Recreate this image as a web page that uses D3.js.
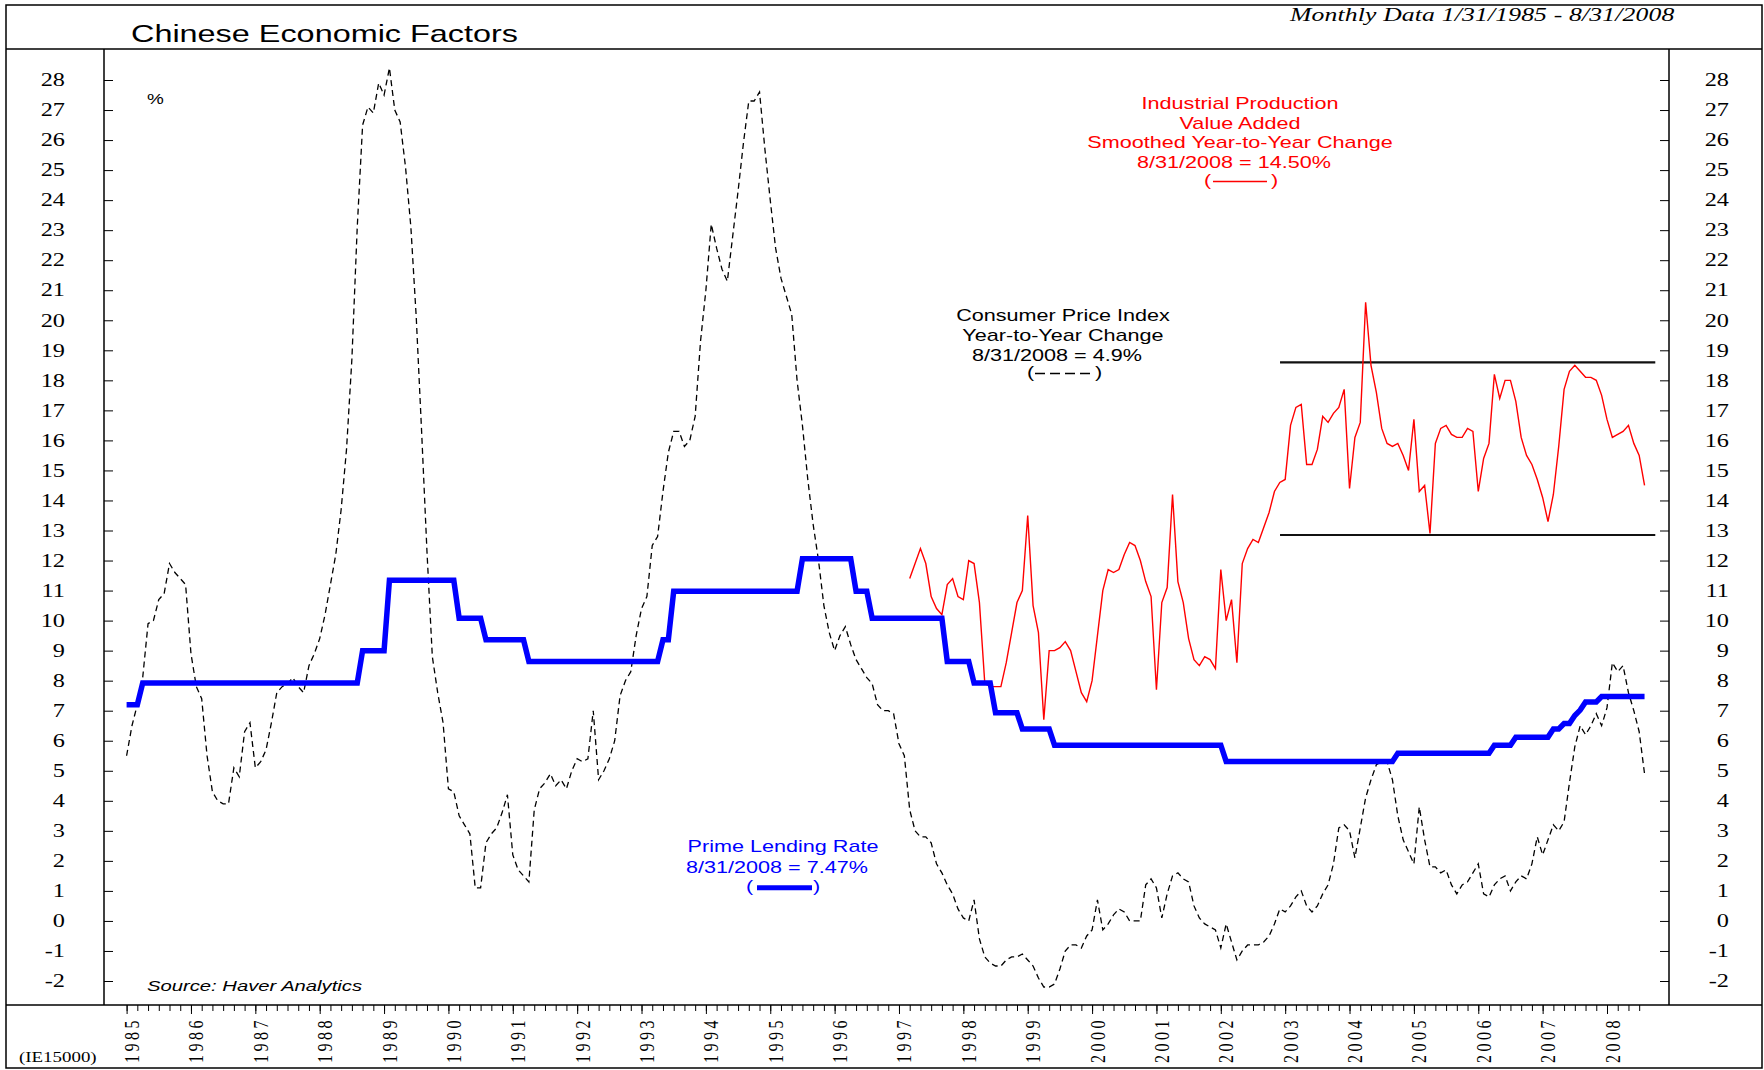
<!DOCTYPE html>
<html>
<head>
<meta charset="utf-8">
<title>Chinese Economic Factors</title>
<script src="https://cdn.jsdelivr.net/npm/d3@7"></script>
<style>
  body { margin: 0; background: #fff; }
  svg { display: block; }
</style>
</head>
<body>
<script>
// monthly series, index 0 = Jan 1985
const startYear = 1985;

// CPI, year-to-year % change
const cpi = [
  5.5, 6.5, 7.2, 8.1, 9.9, 10.0, 10.7, 10.9, 11.9, 11.6, 11.4, 11.2,        // 1985
  8.9, 7.8, 7.4, 5.5, 4.3, 4.0, 3.9, 3.9, 5.1, 4.8, 6.3, 6.6,               // 1986
  5.1, 5.3, 5.7, 6.6, 7.6, 7.8, 7.9, 8.1, 7.8, 7.6, 8.5, 8.9,               // 1987
  9.4, 10.2, 11.2, 12.2, 13.7, 15.7, 18.7, 23.1, 26.5, 27.1, 26.9, 27.9,    // 1988
  27.5, 28.4, 27.0, 26.6, 25.1, 23.1, 20.1, 16.3, 12.3, 8.8, 7.6, 6.6,      // 1989
  4.4, 4.3, 3.5, 3.2, 2.9, 1.1, 1.1, 2.6, 2.9, 3.1, 3.6, 4.2,               // 1990
  2.2, 1.7, 1.5, 1.3, 3.7, 4.4, 4.6, 4.9, 4.5, 4.7, 4.4, 5.0,               // 1991
  5.4, 5.3, 5.4, 7.0, 4.7, 5.0, 5.4, 6.0, 7.5, 8.0, 8.3, 9.5,               // 1992
  10.4, 10.8, 12.5, 12.8, 14.3, 15.6, 16.3, 16.3, 15.8, 16.0, 16.8, 19.3,   // 1993
  21.0, 23.2, 22.4, 21.7, 21.3, 22.8, 24.3, 25.9, 27.3, 27.3, 27.6, 25.7,   // 1994
  24.0, 22.4, 21.4, 20.8, 20.2, 18.0, 16.5, 14.7, 13.2, 12.0, 10.5, 9.6,    // 1995
  9.0, 9.5, 9.8, 9.2, 8.7, 8.4, 8.1, 7.9, 7.2, 7.0, 7.0, 6.9,               // 1996
  5.9, 5.5, 3.7, 3.0, 2.8, 2.8, 2.6, 1.9, 1.6, 1.2, 0.9, 0.4,               // 1997
  0.1, 0.0, 0.7, -0.6, -1.2, -1.4, -1.5, -1.5, -1.3, -1.2, -1.2, -1.1,      // 1998
  -1.3, -1.5, -1.9, -2.2, -2.2, -2.1, -1.6, -1.0, -0.8, -0.8, -0.9, -0.5,   // 1999
  -0.3, 0.7, -0.3, -0.1, 0.2, 0.4, 0.3, 0.0, 0.0, 0.0, 1.2, 1.4,            // 2000
  1.1, 0.1, 0.9, 1.5, 1.6, 1.4, 1.3, 0.5, 0.1, -0.1, -0.2, -0.3,            // 2001
  -0.9, -0.1, -0.7, -1.3, -1.0, -0.8, -0.8, -0.8, -0.7, -0.5, -0.1, 0.4,    // 2002
  0.3, 0.5, 0.8, 1.0, 0.5, 0.3, 0.5, 0.9, 1.2, 1.9, 3.1, 3.2,               // 2003
  3.0, 2.1, 3.1, 4.1, 4.7, 5.2, 5.3, 5.3, 4.7, 3.5, 2.7, 2.3,               // 2004
  1.9, 3.8, 2.7, 1.8, 1.8, 1.6, 1.7, 1.2, 0.9, 1.2, 1.3, 1.6,               // 2005
  1.9, 0.9, 0.8, 1.2, 1.4, 1.5, 1.0, 1.3, 1.5, 1.4, 1.9, 2.8,               // 2006
  2.2, 2.7, 3.2, 3.0, 3.3, 4.6, 5.8, 6.5, 6.2, 6.5, 6.9, 6.5,               // 2007
  7.1, 8.6, 8.3, 8.5, 7.6, 7.0, 6.3, 4.9                                    // 2008
];

// prime lending rate, %
const primeRate = [
  7.20, 7.20, 7.20, 7.92, 7.92, 7.92, 7.92, 7.92, 7.92, 7.92, 7.92, 7.92,             // 1985
  7.92, 7.92, 7.92, 7.92, 7.92, 7.92, 7.92, 7.92, 7.92, 7.92, 7.92, 7.92,             // 1986
  7.92, 7.92, 7.92, 7.92, 7.92, 7.92, 7.92, 7.92, 7.92, 7.92, 7.92, 7.92,             // 1987
  7.92, 7.92, 7.92, 7.92, 7.92, 7.92, 7.92, 7.92, 9.00, 9.00, 9.00, 9.00,             // 1988
  9.00, 11.34, 11.34, 11.34, 11.34, 11.34, 11.34, 11.34, 11.34, 11.34, 11.34, 11.34,  // 1989
  11.34, 11.34, 10.08, 10.08, 10.08, 10.08, 10.08, 9.36, 9.36, 9.36, 9.36, 9.36,      // 1990
  9.36, 9.36, 9.36, 8.64, 8.64, 8.64, 8.64, 8.64, 8.64, 8.64, 8.64, 8.64,             // 1991
  8.64, 8.64, 8.64, 8.64, 8.64, 8.64, 8.64, 8.64, 8.64, 8.64, 8.64, 8.64,             // 1992
  8.64, 8.64, 8.64, 8.64, 9.36, 9.36, 10.98, 10.98, 10.98, 10.98, 10.98, 10.98,       // 1993
  10.98, 10.98, 10.98, 10.98, 10.98, 10.98, 10.98, 10.98, 10.98, 10.98, 10.98, 10.98, // 1994
  10.98, 10.98, 10.98, 10.98, 10.98, 10.98, 12.06, 12.06, 12.06, 12.06, 12.06, 12.06, // 1995
  12.06, 12.06, 12.06, 12.06, 10.98, 10.98, 10.98, 10.08, 10.08, 10.08, 10.08, 10.08, // 1996
  10.08, 10.08, 10.08, 10.08, 10.08, 10.08, 10.08, 10.08, 10.08, 8.64, 8.64, 8.64,    // 1997
  8.64, 8.64, 7.92, 7.92, 7.92, 7.92, 6.93, 6.93, 6.93, 6.93, 6.93, 6.39,             // 1998
  6.39, 6.39, 6.39, 6.39, 6.39, 5.85, 5.85, 5.85, 5.85, 5.85, 5.85, 5.85,             // 1999
  5.85, 5.85, 5.85, 5.85, 5.85, 5.85, 5.85, 5.85, 5.85, 5.85, 5.85, 5.85,             // 2000
  5.85, 5.85, 5.85, 5.85, 5.85, 5.85, 5.85, 5.85, 5.85, 5.85, 5.85, 5.85,             // 2001
  5.85, 5.31, 5.31, 5.31, 5.31, 5.31, 5.31, 5.31, 5.31, 5.31, 5.31, 5.31,             // 2002
  5.31, 5.31, 5.31, 5.31, 5.31, 5.31, 5.31, 5.31, 5.31, 5.31, 5.31, 5.31,             // 2003
  5.31, 5.31, 5.31, 5.31, 5.31, 5.31, 5.31, 5.31, 5.31, 5.58, 5.58, 5.58,             // 2004
  5.58, 5.58, 5.58, 5.58, 5.58, 5.58, 5.58, 5.58, 5.58, 5.58, 5.58, 5.58,             // 2005
  5.58, 5.58, 5.58, 5.85, 5.85, 5.85, 5.85, 6.12, 6.12, 6.12, 6.12, 6.12,             // 2006
  6.12, 6.12, 6.39, 6.39, 6.57, 6.57, 6.84, 7.02, 7.29, 7.29, 7.29, 7.47,             // 2007
  7.47, 7.47, 7.47, 7.47, 7.47, 7.47, 7.47, 7.47                                      // 2008
];

// industrial production value added, smoothed yoy %, starts Mar 1997
const ipStart = 1997 + 2 / 12;
const industrialProduction = [
  11.4, 11.9, 12.4, 11.9, 10.8, 10.4, 10.2, 11.2, 11.4, 10.8,               // 1997 (Mar-Dec)
  10.7, 12.0, 11.9, 10.6, 7.9, 7.8, 7.8, 7.8, 8.6, 9.6, 10.6, 11.0,         // 1998
  13.5, 10.5, 9.6, 6.7, 9.0, 9.0, 9.1, 9.3, 9.0, 8.3, 7.6, 7.3,             // 1999
  8.0, 9.5, 11.0, 11.7, 11.6, 11.7, 12.2, 12.6, 12.5, 12.0, 11.3, 10.8,     // 2000
  7.7, 10.6, 11.1, 14.2, 11.3, 10.6, 9.4, 8.7, 8.5, 8.8, 8.7, 8.4,          // 2001
  11.7, 10.0, 10.7, 8.6, 11.9, 12.4, 12.7, 12.6, 13.1, 13.6, 14.3, 14.6,    // 2002
  14.7, 16.5, 17.1, 17.2, 15.2, 15.2, 15.7, 16.8, 16.6, 16.9, 17.1, 17.7,   // 2003
  14.4, 16.1, 16.6, 20.6, 18.5, 17.6, 16.4, 15.9, 15.8, 15.9, 15.5, 15.0,   // 2004
  16.7, 14.3, 14.5, 12.9, 15.9, 16.4, 16.5, 16.2, 16.1, 16.1, 16.4, 16.3,   // 2005
  14.3, 15.4, 15.9, 18.2, 17.4, 18.0, 18.0, 17.3, 16.1, 15.5, 15.2, 14.7,   // 2006
  14.1, 13.3, 14.2, 15.8, 17.7, 18.3, 18.5, 18.3, 18.1, 18.1, 18.0, 17.5,   // 2007
  16.7, 16.1, 16.2, 16.3, 16.5, 15.9, 15.5, 14.5                            // 2008
];

const years = [1985, 1986, 1987, 1988, 1989, 1990, 1991, 1992, 1993, 1994, 1995, 1996,
               1997, 1998, 1999, 2000, 2001, 2002, 2003, 2004, 2005, 2006, 2007, 2008];
const yTicks = [-2, -1, 0, 1, 2, 3, 4, 5, 6, 7, 8, 9, 10, 11, 12, 13, 14, 15,
                16, 17, 18, 19, 20, 21, 22, 23, 24, 25, 26, 27, 28];

// the two horizontal range lines over the IP series
const bandLevels = [18.6, 12.85];
const bandSpan = [2002.92, 2008.75];

const ipLegend = ["Industrial Production", "Value Added", "Smoothed Year-to-Year Change", "8/31/2008 = 14.50%"];
const cpiLegend = ["Consumer Price Index", "Year-to-Year Change", "8/31/2008 = 4.9%"];
const primeLegend = ["Prime Lending Rate", "8/31/2008 = 7.47%"];

// ---------------------------------------------------------------
const W = 1764, H = 1070;
const SX = 1.35;   // the original's type is set wide
const sans = "'Liberation Sans', Arial, Helvetica, sans-serif";
const serif = "'Liberation Serif', 'Times New Roman', serif";
const plot = {left: 104, right: 1669, top: 49, bottom: 1005};

const x = d3.scaleLinear().domain([1985, 2008]).range([126.6, 1607]);
const y = d3.scaleLinear().domain([-2, 28]).range([981, 80]);

const svg = d3.select("body").append("svg")
    .attr("width", W).attr("height", H);

svg.append("rect").attr("width", W).attr("height", H).attr("fill", "#fff");

function txt(px, py, str, o) {
  o = o || {};
  return svg.append("text")
      .attr("transform", "translate(" + px + "," + py + ") scale(" + SX + ",1)")
      .attr("text-anchor", o.anchor || "start")
      .attr("font-family", o.family || sans)
      .attr("font-size", o.size || 16)
      .attr("font-style", o.italic ? "italic" : null)
      .attr("letter-spacing", o.spacing || null)
      .attr("fill", o.fill || "#000")
      .text(str);
}

function hline(x1, x2, yy, w, c) {
  svg.append("line").attr("x1", x1).attr("x2", x2).attr("y1", yy).attr("y2", yy)
     .attr("stroke", c || "#000").attr("stroke-width", w || 1.5);
}
function vline(xx, y1, y2, w) {
  svg.append("line").attr("x1", xx).attr("x2", xx).attr("y1", y1).attr("y2", y2)
     .attr("stroke", "#000").attr("stroke-width", w || 1.5);
}

// frame
svg.append("rect").attr("x", 6).attr("y", 5).attr("width", 1756).attr("height", 1063)
   .attr("fill", "none").attr("stroke", "#000").attr("stroke-width", 1.5);
hline(6, 1762, plot.top);
hline(6, 1762, plot.bottom);
vline(plot.left, plot.top, plot.bottom);
vline(plot.right, plot.top, plot.bottom);

// header
txt(131, 42, "Chinese Economic Factors", {size: 24});
txt(1290, 21, "Monthly Data 1/31/1985 - 8/31/2008", {family: serif, size: 19, italic: true, spacing: 0.12});

// y axes
const yl = svg.append("g").attr("transform", "translate(" + plot.left + ",0)")
    .call(d3.axisLeft(y).tickValues(yTicks).tickFormat(d => String(d))
      .tickSizeInner(-9).tickSizeOuter(0));
yl.select(".domain").remove();
yl.selectAll("text").attr("x", null)
  .attr("transform", "translate(-39,0) scale(" + SX + ",1)")
  .attr("font-family", serif).attr("font-size", 18);

const yr = svg.append("g").attr("transform", "translate(" + plot.right + ",0)")
    .call(d3.axisRight(y).tickValues(yTicks).tickFormat(d => String(d))
      .tickSizeInner(-9).tickSizeOuter(0));
yr.select(".domain").remove();
yr.selectAll("text").attr("x", null).attr("text-anchor", "end")
  .attr("transform", "translate(60,0) scale(" + SX + ",1)")
  .attr("font-family", serif).attr("font-size", 18);

// x axis: bi-monthly minor ticks, yearly labels
const minorTicks = d3.range(0, 283, 2).map(m => startYear + m / 12);
const xm = svg.append("g").attr("transform", "translate(0," + plot.bottom + ")")
    .call(d3.axisBottom(x).tickValues(minorTicks).tickFormat("").tickSizeInner(6).tickSizeOuter(0));
xm.select(".domain").remove();

const xa = svg.append("g").attr("transform", "translate(0," + plot.bottom + ")")
    .call(d3.axisBottom(x).tickValues(years).tickFormat(d => String(d)).tickSizeInner(9).tickSizeOuter(0));
xa.select(".domain").remove();
xa.selectAll("text").attr("y", null).attr("dy", null).attr("text-anchor", "start")
  .attr("transform", "translate(12,58) rotate(-90) scale(1," + SX + ")")
  .attr("font-family", serif).attr("font-size", 16).attr("letter-spacing", 3.5);

txt(19, 1062, "(IE15000)", {family: serif, size: 14});

// series
const line = d3.line().x(d => x(d.t)).y(d => y(d.v));
const cpiPts = cpi.map((v, i) => ({t: startYear + i / 12, v: v}));
const primePts = primeRate.map((v, i) => ({t: startYear + i / 12, v: v}));
const ipPts = industrialProduction.map((v, i) => ({t: ipStart + i / 12, v: v}));

bandLevels.forEach(v => hline(x(bandSpan[0]), x(bandSpan[1]), y(v), 2.2, "#111"));

svg.append("path").datum(cpiPts).attr("d", line)
   .attr("fill", "none").attr("stroke", "#000").attr("stroke-width", 1.3)
   .attr("stroke-dasharray", "6,4");
svg.append("path").datum(ipPts).attr("d", line)
   .attr("fill", "none").attr("stroke", "#ff0000").attr("stroke-width", 1.4);
svg.append("path").datum(primePts).attr("d", line)
   .attr("fill", "none").attr("stroke", "#0000ff").attr("stroke-width", 5.5)
   .attr("stroke-linejoin", "miter");

// annotations
txt(147, 104, "%", {size: 14});
txt(147, 991, "Source: Haver Analytics", {size: 15, italic: true});

// industrial production legend
[109, 128.5, 148, 167.5].forEach((b, i) =>
  txt(i === 3 ? 1234 : 1240, b, ipLegend[i], {anchor: "middle", fill: "#ff0000"}));
txt(1204, 186, "(", {fill: "#ff0000"});
txt(1271, 186, ")", {fill: "#ff0000"});
hline(1213, 1267, 181.5, 1.3, "#ff0000");

// cpi legend
[320.5, 340.5, 361].forEach((b, i) =>
  txt(i === 2 ? 1057 : 1063, b, cpiLegend[i], {anchor: "middle"}));
txt(1027, 378, "(");
txt(1095, 378, ")");
svg.append("line").attr("x1", 1035).attr("x2", 1090).attr("y1", 373.5).attr("y2", 373.5)
   .attr("stroke", "#000").attr("stroke-width", 1.3).attr("stroke-dasharray", "10,5");

// prime rate legend
[852, 872.5].forEach((b, i) =>
  txt(i === 1 ? 777 : 783, b, primeLegend[i], {anchor: "middle", fill: "#0000ff"}));
txt(746, 892, "(", {fill: "#0000ff"});
txt(813, 892, ")", {fill: "#0000ff"});
hline(757, 812, 887.7, 5, "#0000ff");
</script>
</body>
</html>
